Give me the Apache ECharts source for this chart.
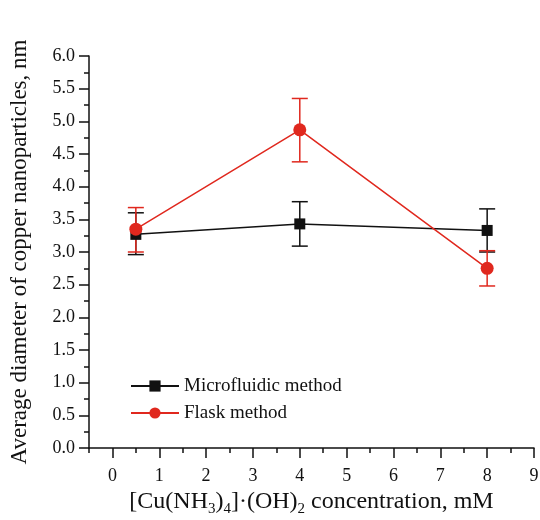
<!DOCTYPE html>
<html>
<head>
<meta charset="utf-8">
<script src="https://cdn.jsdelivr.net/npm/echarts@6/dist/echarts.min.js"></script>
<style>
  html, body { margin: 0; padding: 0; background: #fff; }
  #chart-container { width: 540px; height: 520px; }
</style>
</head>
<body>
<div id="chart-container"></div>
<script>
let dom = document.getElementById("chart-container");
let myChart = echarts.init(dom, null, { renderer: "canvas" });

// concentration, mM
const concentrations = [0.5, 4, 8];
// Microfluidic method
const microMean = [3.27, 3.43, 3.33];
const microLow = [2.96, 3.09, 3.0];
const microHigh = [3.6, 3.77, 3.66];
// Flask method
const flaskMean = [3.35, 4.87, 2.75];
const flaskLow = [3.0, 4.38, 2.48];
const flaskHigh = [3.68, 5.35, 3.02];

const xTickLabels = [0, 1, 2, 3, 4, 5, 6, 7, 8, 9];

const BLACK = "#111111";
const RED = "#e0281e";
const FONT = "Liberation Serif";

function errorSeries(name, low, high, color) {
  return {
    name: name,
    type: "custom",
    xAxisIndex: 0,
    yAxisIndex: 0,
    silent: true,
    z: 1,
    data: concentrations.map((x, i) => [x, low[i], high[i]]),
    renderItem: function (params, api) {
      const x = api.value(0);
      const lo = api.coord([x, api.value(1)]);
      const hi = api.coord([x, api.value(2)]);
      const w = 8;
      const style = { stroke: color, lineWidth: 1.5 };
      return {
        type: "group",
        children: [
          { type: "line", shape: { x1: lo[0], y1: lo[1], x2: hi[0], y2: hi[1] }, style: style },
          { type: "line", shape: { x1: hi[0] - w, y1: hi[1], x2: hi[0] + w, y2: hi[1] }, style: style },
          { type: "line", shape: { x1: lo[0] - w, y1: lo[1], x2: lo[0] + w, y2: lo[1] }, style: style },
        ],
      };
    },
  };
}

let option = {
  animation: false,
  textStyle: { fontFamily: FONT },
  grid: { left: 89, right: 6, top: 56, bottom: 72, outerBoundsMode: "none", containLabel: false },
  legend: {
    orient: "vertical",
    left: 125,
    top: 371,
    itemWidth: 48,
    itemHeight: 14,
    itemGap: 7,
    data: ["Microfluidic method", "Flask method"],
    textStyle: { fontFamily: FONT, fontSize: 19, lineHeight: 20, color: "#111" },
  },
  xAxis: [
    {
      type: "value",
      min: -0.5,
      max: 9,
      interval: 0.5,
      splitLine: { show: false },
      axisLine: { onZero: false, lineStyle: { color: BLACK, width: 1.5 } },
      axisTick: { length: 5, lineStyle: { color: BLACK, width: 1.5 } },
      axisLabel: {
        customValues: xTickLabels,
        fontFamily: FONT,
        fontSize: 18,
        color: "#111",
        margin: 19,
      },
      name: "{m|[Cu(NH}{s|3}{m|)}{s|4}{m|]·(OH)}{s|2}{m| concentration, mM}",
      nameLocation: "middle",
      nameGap: 31,
      nameTextStyle: {
        rich: {
          m: { fontFamily: FONT, fontSize: 24, color: "#111", lineHeight: 30, verticalAlign: "middle" },
          s: { fontFamily: FONT, fontSize: 15, color: "#111", lineHeight: 30, verticalAlign: "bottom" },
        },
      },
    },
    {
      type: "value",
      min: -0.5,
      max: 9,
      position: "bottom",
      splitLine: { show: false },
      axisLine: { show: false, onZero: false },
      axisLabel: { show: false },
      axisTick: {
        customValues: xTickLabels,
        length: 10,
        lineStyle: { color: BLACK, width: 1.5 },
      },
    },
  ],
  yAxis: {
    type: "value",
    min: 0,
    max: 6,
    interval: 0.5,
    splitLine: { show: false },
    axisLine: { show: true, onZero: false, lineStyle: { color: BLACK, width: 1.5 } },
    axisTick: { length: 10, lineStyle: { color: BLACK, width: 1.5 } },
    minorTick: { show: true, splitNumber: 2, length: 5, lineStyle: { color: BLACK, width: 1.5 } },
    axisLabel: {
      fontFamily: FONT,
      fontSize: 18,
      color: "#111",
      margin: 14,
      formatter: (v) => v.toFixed(1),
    },
    name: "Average diameter of copper nanoparticles, nm",
    nameLocation: "middle",
    nameGap: 58,
    nameTextStyle: { fontFamily: FONT, fontSize: 23, color: "#111" },
  },
  series: [
    errorSeries("err-micro", microLow, microHigh, BLACK),
    errorSeries("err-flask", flaskLow, flaskHigh, RED),
    {
      name: "Microfluidic method",
      type: "line",
      z: 3,
      data: concentrations.map((x, i) => [x, microMean[i]]),
      symbol: "rect",
      symbolSize: 11,
      lineStyle: { color: BLACK, width: 1.5 },
      itemStyle: { color: BLACK },
    },
    {
      name: "Flask method",
      type: "line",
      z: 3,
      data: concentrations.map((x, i) => [x, flaskMean[i]]),
      symbol: "circle",
      symbolSize: 13,
      lineStyle: { color: RED, width: 1.5 },
      itemStyle: { color: RED },
    },
  ],
};

myChart.setOption(option);
window.addEventListener("resize", myChart.resize);
</script>
</body>
</html>
